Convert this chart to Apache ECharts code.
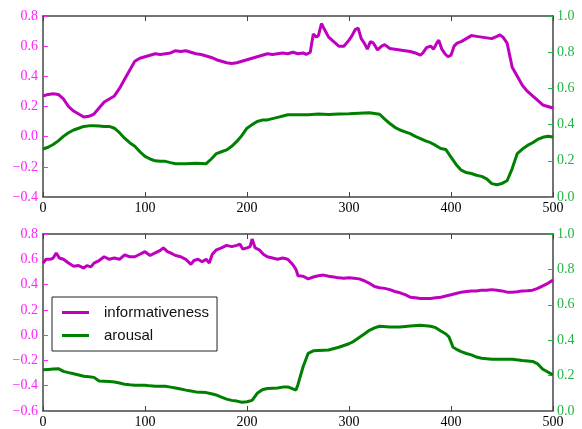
<!DOCTYPE html>
<html>
<head>
<meta charset="utf-8">
<script src="https://cdn.jsdelivr.net/npm/echarts@6/dist/echarts.min.js"></script>
<style>
  html, body { margin: 0; padding: 0; background: #fff; }
  #container1 { width: 582px; height: 429px; }
</style>
</head>
<body>
<div id="container1"></div>
<script>
// top panel, informativeness (left axis)
var topInfoX = [0,5,10,15,20,25,30,35,40,45,50,55,60,65,70,75,80,85,90,95,100,105,110,115,120,125,130,135,140,145,150,155,160,165,170,175,180,185,190,195,200,205,210,215,220,225,230,235,240,245,250,255,258,262,265,268,270,273,276,280,285,290,295,300,303,306,309,312,315,318,321,324,328,332,335,340,345,350,355,360,365,370,373,376,380,383,386,388,391,394,397,400,403,406,410,415,420,425,430,435,440,445,448,451,455,460,465,470,475,480,485,490,495,500];
var topInfoY = [.27,.28,.285,.28,.25,.20,.17,.15,.13,.135,.15,.19,.23,.25,.27,.32,.38,.44,.50,.52,.53,.54,.55,.545,.55,.555,.57,.565,.57,.56,.55,.545,.535,.525,.51,.50,.49,.485,.49,.50,.51,.52,.53,.54,.55,.545,.55,.555,.55,.56,.55,.555,.545,.56,.68,.66,.67,.75,.71,.66,.63,.60,.60,.64,.67,.71,.72,.65,.62,.58,.63,.62,.575,.60,.61,.585,.58,.575,.57,.565,.555,.54,.56,.59,.60,.58,.62,.64,.58,.55,.53,.54,.60,.62,.63,.65,.67,.665,.66,.655,.65,.665,.675,.66,.62,.46,.40,.34,.30,.27,.24,.21,.20,.19];

// top panel, arousal (right axis)
var topArX = [0,5,10,15,20,25,30,35,40,45,50,55,60,65,70,75,80,85,90,95,100,105,110,115,120,125,130,140,150,160,165,170,175,180,185,190,195,200,205,210,215,220,230,240,250,260,270,280,290,300,310,320,330,335,340,345,350,355,360,365,370,375,380,385,390,395,400,405,410,415,420,425,430,435,440,445,450,455,460,465,470,475,480,485,490,495,500];
var topArY = [.265,.275,.29,.31,.335,.355,.37,.38,.39,.393,.393,.392,.39,.39,.38,.355,.325,.30,.28,.25,.224,.21,.20,.198,.197,.19,.184,.184,.186,.184,.21,.24,.25,.26,.28,.307,.34,.38,.40,.417,.425,.426,.44,.454,.455,.455,.458,.456,.458,.46,.463,.465,.457,.43,.406,.385,.37,.36,.35,.335,.323,.31,.30,.285,.268,.262,.22,.18,.148,.135,.13,.12,.114,.10,.074,.068,.075,.09,.157,.24,.265,.285,.30,.318,.33,.336,.332];

// bottom panel, informativeness (left axis)
var botInfoX = [0,3,7,10,13,16,20,25,30,35,40,43,47,50,55,60,65,70,75,80,85,90,95,100,105,110,115,118,122,125,130,135,140,145,148,152,156,160,163,166,170,175,180,185,190,193,196,200,203,205,208,212,216,220,225,230,235,240,245,248,250,255,260,265,270,275,280,285,290,295,300,305,310,315,320,325,330,335,340,345,350,355,360,365,370,375,380,385,390,395,400,405,410,415,420,425,430,435,440,445,450,455,460,465,470,475,480,485,490,495,500];
var botInfoY = [.57,.60,.60,.61,.65,.61,.60,.57,.545,.55,.53,.55,.54,.57,.59,.62,.60,.61,.60,.635,.62,.62,.64,.66,.63,.65,.67,.69,.66,.65,.63,.62,.60,.56,.59,.60,.58,.60,.57,.64,.675,.69,.71,.70,.71,.72,.68,.69,.70,.76,.69,.675,.64,.62,.61,.60,.61,.60,.557,.52,.47,.466,.445,.46,.47,.475,.466,.46,.453,.45,.453,.45,.445,.43,.41,.385,.375,.37,.36,.345,.335,.32,.30,.295,.29,.29,.29,.295,.30,.31,.32,.33,.34,.345,.35,.35,.356,.355,.36,.355,.35,.34,.34,.343,.35,.352,.356,.37,.39,.41,.435];

// bottom panel, arousal (right axis)
var botArX = [0,5,10,15,20,25,30,35,40,45,50,55,60,65,70,75,80,85,90,100,105,110,120,125,130,135,140,145,150,160,165,170,175,180,185,190,195,200,205,210,215,220,230,235,240,245,248,250,255,260,265,270,280,290,300,305,310,315,320,325,330,340,350,360,370,380,385,390,395,398,402,405,410,415,420,425,430,440,450,460,470,480,485,490,495,500];
var botArY = [.233,.235,.237,.239,.224,.217,.21,.203,.196,.194,.19,.17,.168,.166,.164,.158,.151,.148,.146,.146,.142,.14,.14,.135,.13,.124,.118,.113,.108,.104,.097,.09,.078,.067,.06,.056,.049,.052,.06,.10,.12,.127,.13,.135,.136,.125,.118,.15,.25,.326,.34,.342,.345,.36,.38,.395,.415,.435,.456,.47,.479,.475,.475,.48,.484,.479,.471,.452,.435,.419,.36,.35,.335,.325,.317,.305,.298,.292,.292,.292,.285,.28,.266,.236,.22,.205];

var MAG = '#bf00bf', GRN = '#008000';
var MAG_TXT = '#ff22ff', GRN_TXT = '#22b544';
var FRAME = '#444';

function pairs(xs, ys) {
    return xs.map(function (x, i) { return [x, ys[i]]; });
}
function fmt(v) {
    return v.toFixed(1).replace('-', '\u2212');
}

var dom = document.getElementById("container1");
var myChart = echarts.init(dom);

var grids = [
    {left: 43, top: 16, width: 510, height: 181},
    {left: 43, top: 234, width: 510, height: 179}
];

function xAx(gi, pos) {
    return {
        type: 'value', gridIndex: gi, position: pos, min: 0, max: 500, interval: 100,
        axisLine: {show: true, onZero: false, lineStyle: {color: FRAME, width: 1.5}},
        axisTick: {show: true, inside: true, length: 5, lineStyle: {color: FRAME}},
        axisLabel: {show: pos === 'bottom', color: '#000', fontFamily: 'Liberation Serif', fontSize: 14, margin: 4},
        splitLine: {show: false}
    };
}
function yLeft(gi, mn) {
    return {
        type: 'value', gridIndex: gi, position: 'left', min: mn, max: 0.8, interval: 0.2,
        axisLine: {show: true, onZero: false, lineStyle: {color: FRAME, width: 1.5}},
        axisTick: {show: true, inside: true, length: 5, lineStyle: {color: MAG_TXT}},
        axisLabel: {color: MAG_TXT, fontFamily: 'Liberation Serif', fontSize: 14, margin: 5, formatter: fmt},
        splitLine: {show: false}
    };
}
function yRight(gi) {
    return {
        type: 'value', gridIndex: gi, position: 'right', min: 0, max: 1, interval: 0.2,
        axisLine: {show: true, onZero: false, lineStyle: {color: FRAME, width: 1.5}},
        axisTick: {show: true, inside: true, length: 5, lineStyle: {color: GRN_TXT}},
        axisLabel: {color: GRN_TXT, fontFamily: 'Liberation Serif', fontSize: 14, margin: 4, formatter: fmt},
        splitLine: {show: false}
    };
}
function line(name, xi, yi, data, color) {
    return {
        name: name, type: 'line', xAxisIndex: xi, yAxisIndex: yi,
        data: data, showSymbol: false, symbol: 'none', animation: false,
        lineStyle: {color: color, width: 3}, itemStyle: {color: color}
    };
}

option = {
    backgroundColor: '#fff',
    animation: false,
    grid: grids,
    xAxis: [xAx(0, 'bottom'), xAx(0, 'top'), xAx(1, 'bottom'), xAx(1, 'top')],
    yAxis: [yLeft(0, -0.4), yRight(0), yLeft(1, -0.6), yRight(1)],
    legend: {
        left: 52, top: 297, width: 150,
        orient: 'vertical',
        icon: 'rect',
        itemWidth: 27, itemHeight: 3,
        itemGap: 8,
        padding: [8, 8, 8, 10],
        borderColor: '#222', borderWidth: 1,
        backgroundColor: '#fff',
        textStyle: {color: '#111', fontFamily: 'Liberation Sans', fontSize: 15, padding: [0, 0, 0, 10]},
        data: ['informativeness', 'arousal']
    },
    series: [
        line('informativeness', 0, 0, pairs(topInfoX, topInfoY), MAG),
        line('arousal', 0, 1, pairs(topArX, topArY), GRN),
        line('informativeness', 2, 2, pairs(botInfoX, botInfoY), MAG),
        line('arousal', 2, 3, pairs(botArX, botArY), GRN)
    ]
};

if (option && typeof option === "object") {
    myChart.setOption(option, true);
}
</script>
</body>
</html>
